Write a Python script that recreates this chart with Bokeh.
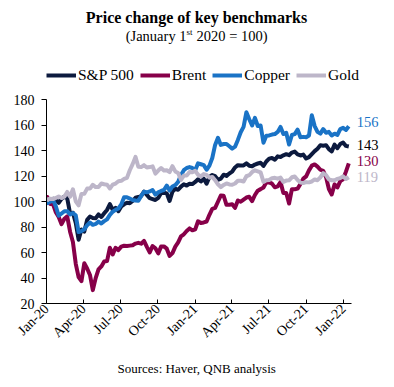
import pandas as pd
from bokeh.plotting import figure
from bokeh.models import Range1d, FixedTicker, Label, Legend, LegendItem, DatetimeTickFormatter, Title
from bokeh.embed import file_html
from bokeh.resources import INLINE

# ---------------- data (index, January 1st 2020 = 100), weekly readings ----------------
first_day = "2020-01-02"
weekly_first, weekly_last = "2020-01-03", "2022-01-14"
dates = [pd.Timestamp(first_day)] + list(pd.date_range(weekly_first, weekly_last, freq="W-FRI"))

sp500 = [100, 99.3, 100.1, 102.2, 101.2, 99.0, 102.1, 103.8, 102.5, 90.7, 91.2, 83.2, 70.0, 78.0,
         76.4, 85.6, 88.2, 87.1, 86.9, 89.9, 87.9, 90.7, 93.4, 98.0, 93.4, 95.1, 92.4, 96.1, 97.8,
         99.0, 98.7, 100.4, 102.9, 103.5, 104.3, 107.7, 105.2, 102.6, 101.9, 101.2, 102.8, 106.7,
         106.9, 106.4, 100.4, 107.7, 110.0, 109.2, 111.7, 113.5, 112.5, 113.9, 113.7,
         115.3, 117.4, 115.7, 117.9, 114.0, 119.3, 120.8, 119.9, 117.0, 117.9, 121.0, 120.1, 122.0,
         123.4, 126.7, 128.5, 128.3, 128.3, 129.9, 128.1, 127.6, 129.0, 129.8, 130.4, 127.9, 131.4,
         133.6, 134.1, 132.8, 135.4, 134.9, 136.2, 137.1, 136.3, 138.4, 139.2, 136.9, 136.1, 136.8,
         133.7, 134.8, 137.2, 139.5, 141.4, 144.2, 143.7, 144.2, 141.0, 139.3, 144.6, 141.8, 145.1,
         146.3, 143.6, 143.1]

brent = [100, 103.5, 98.1, 97.9, 91.6, 87.8, 82.2, 86.5, 88.3, 76.3, 68.3, 51.1, 40.7, 37.6,
         51.5, 47.5, 42.4, 30.5, 39.9, 46.7, 49.1, 53.0, 53.3, 63.8, 58.5, 63.7, 61.9, 64.6, 65.3,
         65.1, 65.4, 65.7, 67.0, 67.6, 66.9, 69.1, 64.4, 60.1, 65.1, 63.3, 59.3, 64.7, 64.8, 63.0,
         57.3, 59.5, 64.6, 67.9, 72.7, 74.3, 76.9, 78.9, 77.4,
         78.2, 84.5, 83.2, 83.6, 84.3, 89.6, 94.2, 95.0, 99.8, 104.7, 104.5, 97.4, 97.5, 97.9,
         95.0, 100.8, 99.8, 101.5, 103.1, 103.7, 100.3, 105.1, 108.5, 109.7, 111.0, 115.0, 115.0,
         114.0, 111.1, 111.8, 115.2, 106.7, 106.6, 98.4, 109.7, 109.6, 110.1, 113.7, 117.9, 119.7,
         124.4, 128.1, 129.1, 127.4, 124.9, 124.0, 119.1, 109.8, 105.5, 113.4, 111.0, 116.0, 117.4,
         123.4, 129.9]

copper = [100, 98.7, 99.8, 101.2, 96.2, 88.8, 90.6, 92.4, 92.4, 89.9, 90.9, 89.2, 76.0, 76.8,
          78.2, 81.4, 83.5, 81.7, 82.4, 84.2, 82.8, 84.6, 86.0, 89.5, 92.0, 93.4, 94.5, 97.7, 103.3,
          103.3, 102.3, 101.2, 100.8, 100.5, 104.4, 107.6, 107.2, 107.9, 109.0, 105.4, 107.2, 108.3,
          109.0, 112.5, 108.6, 111.8, 112.9, 115.4, 120.7, 124.6, 126.3, 127.0, 126.3,
          124.6, 129.9, 129.2, 128.5, 124.9, 128.1, 134.1, 144.4, 150.0, 144.4, 145.1, 145.1, 143.3,
          141.5, 143.0, 148.3, 154.3, 158.5, 170.0, 164.5, 159.6, 165.6, 159.2, 159.6, 146.1, 151.5,
          151.8, 152.5, 152.9, 154.6, 158.5, 152.9, 153.9, 144.7, 152.2, 152.9, 156.4, 150.4, 150.7,
          150.4, 151.8, 167.7, 159.2, 154.6, 153.2, 156.8, 153.9, 154.6, 151.8, 153.2, 152.2, 156.8,
          157.8, 156.1, 159.0]

gold = [100, 101.6, 102.2, 101.9, 102.8, 104.0, 102.7, 103.7, 107.5, 103.7, 109.6, 100.1, 97.0,
        105.9, 106.0, 110.1, 110.1, 113.1, 111.3, 111.4, 114.1, 113.5, 113.2, 110.2, 113.2, 114.1,
        115.9, 116.2, 117.7, 118.5, 124.5, 129.3, 135.0, 127.2, 127.0, 128.5, 126.6, 127.0, 127.6,
        121.9, 124.3, 126.3, 124.3, 124.5, 123.0, 127.7, 123.6, 122.4, 117.0, 120.3, 120.3, 123.2,
        122.9,
        124.0, 121.0, 119.6, 121.5, 120.9, 118.7, 119.3, 116.7, 113.5, 111.3, 113.0, 114.2, 113.4,
        113.1, 114.1, 116.3, 116.3, 115.7, 119.8, 120.6, 123.1, 124.5, 123.7, 122.8, 115.4, 116.6,
        116.9, 118.3, 118.6, 117.9, 118.7, 115.4, 116.4, 116.6, 119.0, 119.6, 116.9, 114.8, 114.5,
        115.2, 115.0, 115.7, 117.3, 116.7, 119.0, 122.3, 120.7, 117.3, 116.7, 116.7, 117.7, 118.4,
        119.7, 117.6, 119.0]

series_names = ["S&P 500", "Brent", "Copper", "Gold"]
end_labels = ["143", "130", "156", "119"]
y_ticks = [20, 40, 60, 80, 100, 120, 140, 160, 180]
x_tick_dates = ["2020-01-01", "2020-04-01", "2020-07-01", "2020-10-01", "2021-01-01",
                "2021-04-01", "2021-07-01", "2021-10-01", "2022-01-01"]

# ---------------- styling ----------------
colors = ["#0c1a3e", "#870049", "#1a73c6", "#bdb6c9"]
label_y = [144.5, 131.5, 162.5, 119.5]
FONT = "Liberation Serif"
axis_start, axis_end = pd.Timestamp("2020-01-01"), pd.Timestamp("2022-01-21")

# the frame spans the whole canvas above the x axis; the axes are bounded to the data area
p = figure(width=394, height=387, output_backend="svg", toolbar_location=None,
           x_axis_type="datetime",
           x_range=Range1d(axis_start, pd.Timestamp("2022-05-06 12:00")),
           y_range=Range1d(20, 257.65),
           min_border_left=46, min_border_right=0, min_border_top=0, min_border_bottom=84)
p.outline_line_color = None
p.xgrid.visible = False
p.ygrid.visible = False
p.background_fill_color = "white"
p.border_fill_color = "white"

renderers = []
for vals, col in zip([sp500, brent, copper, gold], colors):
    r = p.line(dates, vals, line_color=col, line_width=4, line_join="round")
    renderers.append(r)

legend = Legend(items=[LegendItem(label=n, renderers=[r]) for n, r in zip(series_names, renderers)],
                orientation="horizontal", location=(0, 219),
                label_text_font=FONT, label_text_font_size="15.5px", label_text_color="#000000",
                glyph_width=30, glyph_height=14, label_standoff=2, spacing=6, padding=0,
                margin=0, border_line_color=None, background_fill_alpha=0)
p.add_layout(legend)

# axes
yax = p.yaxis[0]
yax.bounds = (20, 180)
yax.ticker = FixedTicker(ticks=y_ticks)
yax.major_tick_out = 5
yax.major_tick_in = 0
yax.minor_tick_out = 0
yax.minor_tick_in = 0
yax.major_label_standoff = 7
yax.major_label_text_font = FONT
yax.major_label_text_font_size = "14px"
yax.major_label_text_color = "#000000"
yax.axis_line_color = "#000000"
yax.major_tick_line_color = "#000000"

xax = p.xaxis[0]
xax.bounds = (axis_start, axis_end)
xax.ticker = FixedTicker(ticks=[pd.Timestamp(d).value / 1e6 for d in x_tick_dates])
xax.formatter = DatetimeTickFormatter(days="%b-%y", months="%b-%y", years="%b-%y")
xax.major_label_orientation = 0.785398
xax.major_tick_out = 0
xax.major_tick_in = 4
xax.minor_tick_out = 0
xax.minor_tick_in = 0
xax.major_label_standoff = 3
xax.major_label_text_font = FONT
xax.major_label_text_font_size = "14px"
xax.major_label_text_color = "#000000"
xax.axis_line_color = "#000000"
xax.major_tick_line_color = "#000000"

# end-of-line value labels
for txt, yy, col in zip(end_labels, label_y, colors):
    p.add_layout(Label(x=dates[-1], y=yy, text=txt, x_offset=8, text_baseline="middle",
                       text_align="left", text_font=FONT, text_font_size="14.5px",
                       text_color=("#000000" if txt == "143" else col)))

# titles (screen units, relative to the frame's bottom-left corner)
p.add_layout(Label(x=150, y=286, x_units="screen", y_units="screen", text="Price change of key benchmarks",
                   text_align="center", text_baseline="middle", text_font=FONT,
                   text_font_size="16px", text_font_style="bold", text_color="#000000"))
p.add_layout(Label(x=140, y=268, x_units="screen", y_units="screen", text="(January 1",
                   text_align="right", text_baseline="middle", text_font=FONT,
                   text_font_size="14.5px", text_color="#000000"))
p.add_layout(Label(x=140, y=272, x_units="screen", y_units="screen", text="st",
                   text_align="left", text_baseline="middle", text_font=FONT,
                   text_font_size="9px", text_color="#000000"))
p.add_layout(Label(x=150, y=268, x_units="screen", y_units="screen", text="2020 = 100)",
                   text_align="left", text_baseline="middle", text_font=FONT,
                   text_font_size="14.5px", text_color="#000000"))

# source line under the x axis
p.add_layout(Title(text="Sources: Haver, QNB analysis", align="left", offset=71,
                   text_font=FONT, text_font_size="13px", text_font_style="normal",
                   text_color="#000000", standoff=20), "below")

open("out.html", "w").write(file_html(p, INLINE))
